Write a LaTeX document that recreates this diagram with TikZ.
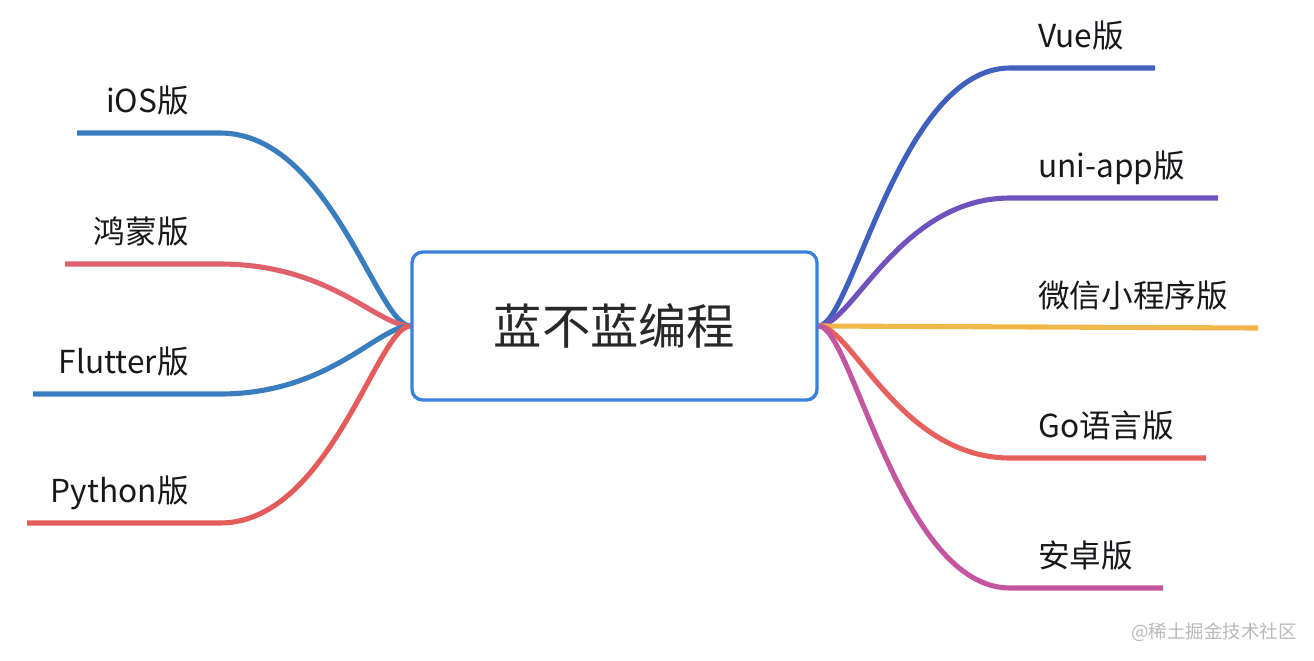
\documentclass[tikz,border=0pt]{standalone}
\usepackage{fontspec}
\setmainfont{Noto Sans CJK SC}
\usepackage{tikz}
\usetikzlibrary{backgrounds}
\definecolor{boxblue}{RGB}{58, 128, 224}
\definecolor{rootgray}{RGB}{40, 40, 40}
\definecolor{labelblack}{RGB}{24, 24, 28}
\definecolor{iosblue}{RGB}{58, 125, 190}
\definecolor{hmred}{RGB}{224, 96, 108}
\definecolor{pyred}{RGB}{228, 92, 90}
\definecolor{vueblue}{RGB}{64, 96, 190}
\definecolor{unipurple}{RGB}{112, 82, 190}
\definecolor{wxyellow}{RGB}{240, 184, 74}
\definecolor{gored}{RGB}{230, 96, 92}
\definecolor{azpink}{RGB}{196, 86, 160}

\begin{document}
\begin{tikzpicture}[
    x=0.02cm, y=-0.02cm,
    rootbox/.style={rectangle, draw=boxblue, line width=1.9pt, rounded corners=6pt, fill=white, minimum width=8.1cm, minimum height=2.96cm, inner sep=0pt, font=\fontsize{27.5}{32}\selectfont, text=rootgray},
    branch/.style={line width=2.9pt, line cap=butt},
    leaflabel/.style={inner sep=0pt, font=\fontsize{18}{21}\selectfont, text=labelblack}
  ]
  \useasboundingbox (0,0) rectangle (1314,660);

  % Root
  \node[rootbox] (root) at (614.5,326) {蓝不蓝编程};

  % Branch ends
  \coordinate (ios-knee) at (220,133);      \coordinate (ios-end) at (77,133);
  \coordinate (hm-knee) at (220,264);       \coordinate (hm-end) at (65,264);
  \coordinate (flutter-knee) at (220,394);  \coordinate (flutter-end) at (33,394);
  \coordinate (py-knee) at (220,523);       \coordinate (py-end) at (27,523);
  \coordinate (vue-knee) at (1010,68);      \coordinate (vue-end) at (1155,68);
  \coordinate (uni-knee) at (1010,198);     \coordinate (uni-end) at (1218,198);
  \coordinate (wx-end) at (1258,328);
  \coordinate (go-knee) at (1010,458);      \coordinate (go-end) at (1206,458);
  \coordinate (az-knee) at (1010,588);      \coordinate (az-end) at (1163,588);

  % Labels
  \node[leaflabel, anchor=base east] (ios) at (189,112) {iOS版};
  \node[leaflabel, anchor=base east] (hongmeng) at (189,243) {鸿蒙版};
  \node[leaflabel, anchor=base east] (flutter) at (189,373) {Flutter版};
  \node[leaflabel, anchor=base east] (python) at (189,502) {Python版};
  \node[leaflabel, anchor=base west] (vue) at (1038,47) {Vue版};
  \node[leaflabel, anchor=base west] (uniapp) at (1038,177) {uni-app版};
  \node[leaflabel, anchor=base west] (wechat) at (1038,307) {微信小程序版};
  \node[leaflabel, anchor=base west] (golang) at (1038,437) {Go语言版};
  \node[leaflabel, anchor=base west] (android) at (1038,567) {安卓版};

  \node[inner sep=0pt, font=\fontsize{10.5}{12}\selectfont, text=gray!55] (watermark) at (1214,632) {@稀土掘金技术社区};

  % Branches
  \begin{scope}[on background layer]
    \draw[branch, iosblue] (root.west) .. controls +(-33,0) and +(110,0) .. (ios-knee) -- (ios-end);
    \draw[branch, hmred] (root.west) .. controls +(-33,0) and +(110,0) .. (hm-knee) -- (hm-end);
    \draw[branch, iosblue] (root.west) .. controls +(-33,0) and +(110,0) .. (flutter-knee) -- (flutter-end);
    \draw[branch, pyred] (root.west) .. controls +(-33,0) and +(110,0) .. (py-knee) -- (py-end);
    \draw[branch, vueblue] (root.east) .. controls +(33,0) and +(-110,0) .. (vue-knee) -- (vue-end);
    \draw[branch, unipurple] (root.east) .. controls +(33,0) and +(-110,0) .. (uni-knee) -- (uni-end);
    \draw[branch, wxyellow] (root.east) -- (wx-end);
    \draw[branch, gored] (root.east) .. controls +(33,0) and +(-110,0) .. (go-knee) -- (go-end);
    \draw[branch, azpink] (root.east) .. controls +(33,0) and +(-110,0) .. (az-knee) -- (az-end);
  \end{scope}
\end{tikzpicture}
\end{document}
